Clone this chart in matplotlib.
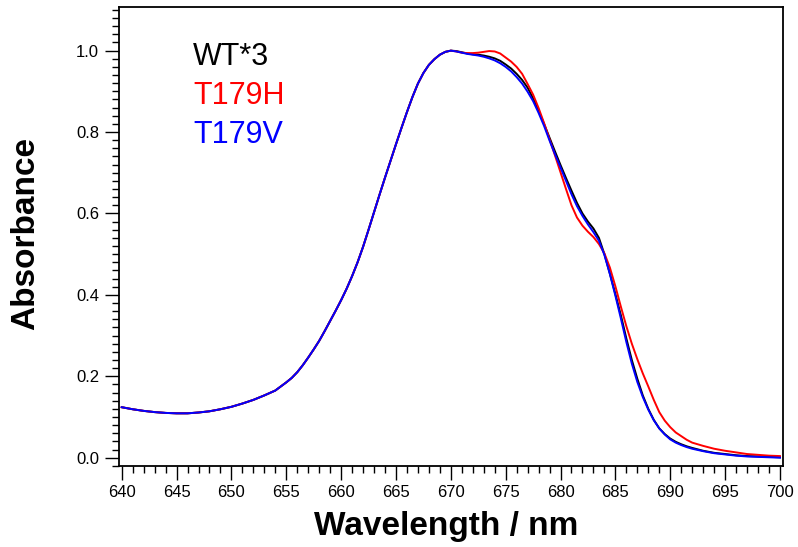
import matplotlib
matplotlib.use("Agg")
import matplotlib.pyplot as plt
from matplotlib.ticker import MultipleLocator, FormatStrFormatter

plt.rcParams['font.family'] = ['Liberation Sans', 'DejaVu Sans']

# wavelength grid (nm): 1 nm steps in the flat parts, 0.5 nm in the band
wavelength = ([float(w) for w in range(640, 654)]
              + [654 + 0.5 * i for i in range(77)]
              + [float(w) for w in range(693, 701)])

# part shared by all three spectra, 640..670 nm
common = [0.124, 0.119, 0.115, 0.112, 0.110, 0.109, 0.109, 0.111, 0.114, 0.119,
          0.125, 0.133, 0.142, 0.153,
          0.165, 0.175, 0.185, 0.196, 0.210, 0.227, 0.246, 0.266, 0.287, 0.311,
          0.336, 0.361, 0.387, 0.415, 0.446, 0.480, 0.518, 0.560, 0.603, 0.646,
          0.688, 0.729, 0.770, 0.810, 0.849, 0.886, 0.919, 0.945, 0.965, 0.979,
          0.990, 0.997, 1.000]

wt3_tail = [0.999, 0.996, 0.993, 0.991, 0.990, 0.988, 0.985, 0.981, 0.975, 0.966,
            0.956, 0.943, 0.928, 0.909, 0.883, 0.852, 0.820, 0.786, 0.752, 0.719,
            0.687, 0.656, 0.626, 0.600, 0.580, 0.563, 0.540, 0.500, 0.452, 0.402,
            0.350, 0.293, 0.240, 0.194, 0.153, 0.120, 0.093, 0.072, 0.058, 0.047,
            0.039, 0.033, 0.028, 0.024,
            0.017, 0.012, 0.009, 0.006, 0.004, 0.003, 0.002, 0.001]

t179h_tail = [0.998, 0.995, 0.994, 0.994, 0.995, 0.997, 0.999, 0.998, 0.993, 0.983,
              0.973, 0.960, 0.943, 0.918, 0.892, 0.859, 0.822, 0.782, 0.742, 0.701,
              0.660, 0.620, 0.590, 0.570, 0.555, 0.542, 0.525, 0.502, 0.467, 0.421,
              0.371, 0.323, 0.280, 0.242, 0.207, 0.175, 0.142, 0.112, 0.091, 0.075,
              0.062, 0.053, 0.044, 0.037,
              0.029, 0.022, 0.017, 0.013, 0.009, 0.007, 0.005, 0.004]

t179v_tail = [0.998, 0.995, 0.992, 0.990, 0.988, 0.985, 0.981, 0.976, 0.969, 0.960,
              0.949, 0.935, 0.919, 0.899, 0.876, 0.847, 0.815, 0.779, 0.745, 0.713,
              0.680, 0.647, 0.618, 0.594, 0.573, 0.554, 0.533, 0.498, 0.451, 0.398,
              0.342, 0.284, 0.231, 0.186, 0.149, 0.118, 0.092, 0.072, 0.057, 0.045,
              0.037, 0.031, 0.026, 0.022,
              0.016, 0.011, 0.008, 0.005, 0.003, 0.002, 0.001, 0.000]

wt3 = common + wt3_tail
t179h = common + t179h_tail
t179v = common + t179v_tail

series_names = ["WT*3", "T179H", "T179V"]
series_colors = ["black", "#ff0000", "#0000ff"]

fig = plt.figure(figsize=(7.98, 5.47), dpi=100)
ax = fig.add_axes([0.1495, 0.1481, 0.8313, 0.8382])

for vals, c in zip([wt3, t179h, t179v], series_colors):
    ax.plot(wavelength, vals, color=c, lw=1.4, solid_joinstyle='round')

ax.set_xlim(639.78, 700.25)
ax.set_ylim(-0.0204, 1.106)

ax.xaxis.set_major_locator(MultipleLocator(5))
ax.xaxis.set_minor_locator(MultipleLocator(1))
ax.yaxis.set_major_locator(MultipleLocator(0.2))
ax.yaxis.set_minor_locator(MultipleLocator(0.02))
ax.yaxis.set_major_formatter(FormatStrFormatter('%.1f'))

ax.tick_params(axis='both', which='major', direction='out', length=10, width=1.0,
               labelsize=12, color='black')
ax.tick_params(axis='both', which='minor', direction='out', length=5, width=1.0)
ax.tick_params(axis='x', which='major', pad=4.0)
ax.tick_params(axis='y', which='major', pad=4.5)
ax.tick_params(top=False, right=False, which='both')

for s in ax.spines.values():
    s.set_linewidth(1.3)
    s.set_color('black')

ax.set_xlabel("Wavelength / nm", fontsize=24, fontweight='bold', va='baseline')
ax.xaxis.set_label_coords(0.4932, -0.1505)
ax.set_ylabel("Absorbance", fontsize=24, fontweight='bold', va='center')
ax.yaxis.set_label_coords(-0.1414, 0.508)

legend_y = [0.8746, 0.7895, 0.7038]
for name, c, yy in zip(series_names, series_colors, legend_y):
    ax.text(0.1115, yy, name, color=c, fontsize=22, transform=ax.transAxes,
            ha='left', va='baseline')

fig.savefig("out.png", dpi=100)
